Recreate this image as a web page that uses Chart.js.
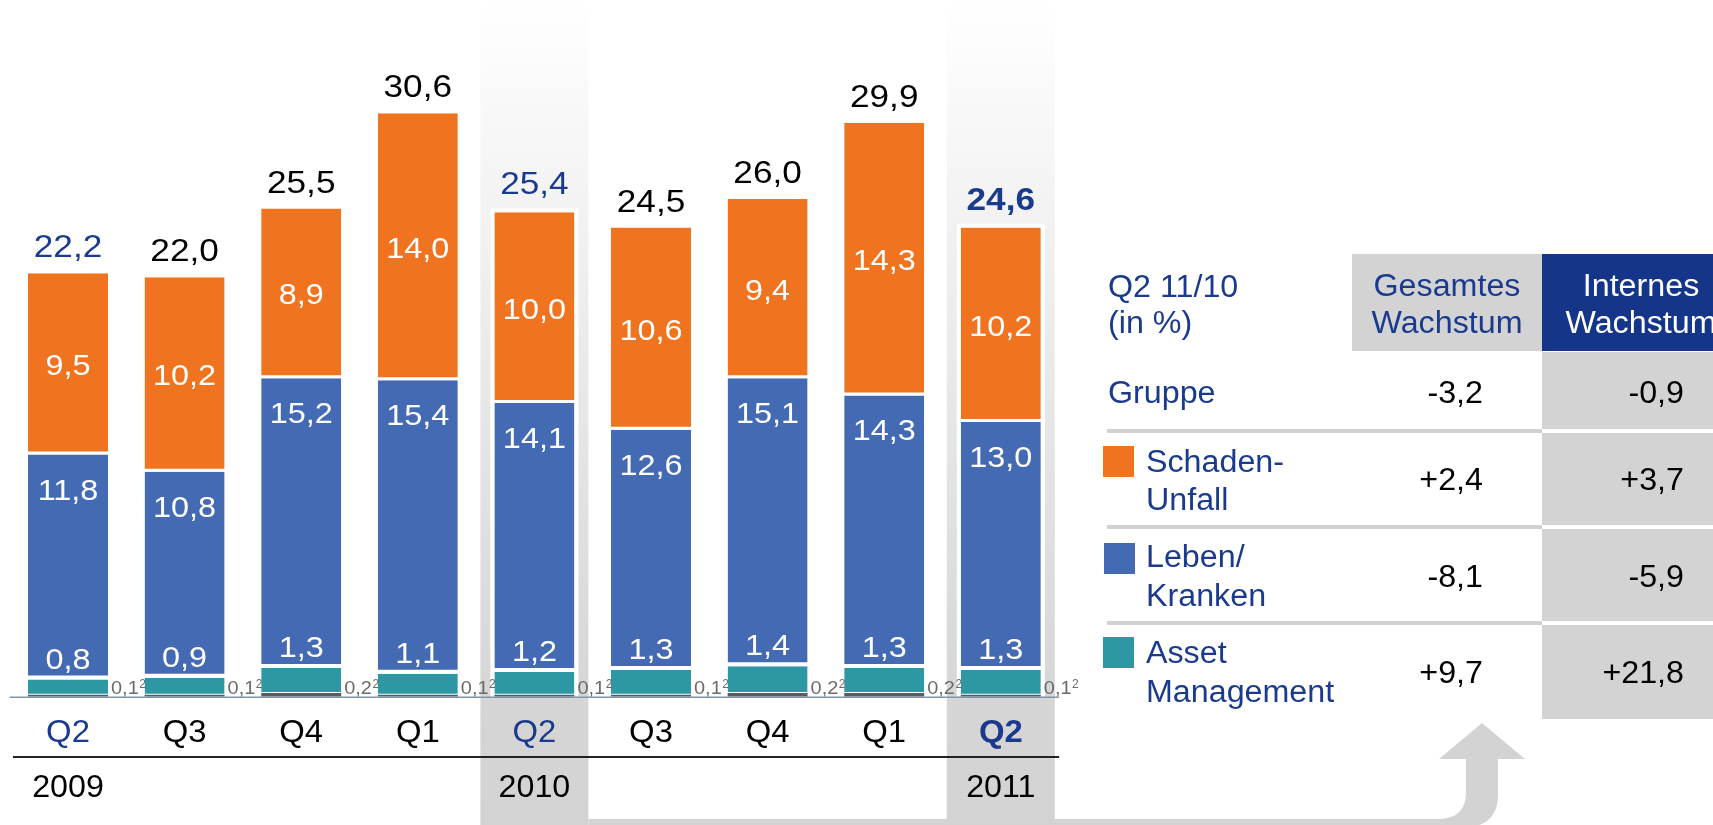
<!DOCTYPE html>
<html><head><meta charset="utf-8">
<script src="https://cdn.jsdelivr.net/npm/chart.js@4.4.1/dist/chart.umd.min.js"></script>
<style>html,body{margin:0;padding:0;background:#fff;overflow:hidden}canvas{display:block}</style>
</head><body>
<canvas id="c" width="1713" height="825"></canvas>
<script>
// ---- data ----
const quarters = ['Q2','Q3','Q4','Q1','Q2','Q3','Q4','Q1','Q2'];
const years = ['2009','','','','2010','','','','2011'];
const other = [0.1,0.1,0.2,0.1,0.1,0.1,0.2,0.2,0.1];
const assetMgmt = [0.8,0.9,1.3,1.1,1.2,1.3,1.4,1.3,1.3];
const lebenKranken = [11.8,10.8,15.2,15.4,14.1,12.6,15.1,14.3,13.0];
const schadenUnfall = [9.5,10.2,8.9,14.0,10.0,10.6,9.4,14.3,10.2];
const totals = [22.2,22.0,25.5,30.6,25.4,24.5,26.0,29.9,24.6];

const tableTitle = ['Q2 11/10','(in %)'];
const tableHeaders = [['Gesamtes','Wachstum'],['Internes','Wachstum']];
const rowLabels = [['Gruppe'],['Schaden-','Unfall'],['Leben/','Kranken'],['Asset','Management']];
const growthTotal = ['-3,2','+2,4','-8,1','+9,7'];
const growthInternal = ['-0,9','+3,7','-5,9','+21,8'];

// ---- styles ----
const FONT = '"Liberation Sans", Arial, sans-serif';
const C_ORANGE = '#F0731F', C_BLUE = '#436AB3', C_TEAL = '#2E97A4', C_OTHER = '#575B63';
const C_DARK = '#1A3A8E', C_HEAD = '#153589', C_GRAY = '#D3D3D3';
const blueIdx = [0,4,8];      // quarters labelled in dark blue
const bandIdx = [4,8];        // highlighted columns
const fmt = v => v.toFixed(1).replace('.', ',');

function txt(ctx, s, x, y, size, color, align, bold, sx) {
  sx = sx || 1;
  ctx.save();
  ctx.font = (bold ? 'bold ' : '') + size + 'px ' + FONT;
  ctx.fillStyle = color;
  ctx.textAlign = align || 'center';
  ctx.textBaseline = 'alphabetic';
  ctx.translate(x, y);
  ctx.scale(sx, 1);
  ctx.fillText(s, 0, 0);
  ctx.restore();
}

const decoPlugin = {
  id: 'deco',
  beforeDraw(chart) {
    const ctx = chart.ctx, xs = chart.scales.x;
    const H = chart.height;
    const g = ctx.createLinearGradient(0, 0, 0, H);
    g.addColorStop(0, '#ffffff');
    g.addColorStop(0.12, '#f9f9f9');
    g.addColorStop(0.86, '#d5d5d5');
    g.addColorStop(1, '#d3d3d3');
    ctx.save();
    bandIdx.forEach(i => {
      const cx = xs.getPixelForValue(i);
      ctx.fillStyle = g;
      ctx.fillRect(cx - 54, 0, 108, H);
    });
    // connector arrow from 2010 band to table
    const left = xs.getPixelForValue(4) + 54;
    ctx.fillStyle = '#D3D3D3';
    ctx.beginPath();
    ctx.moveTo(left, 819);
    ctx.lineTo(1438, 819);
    ctx.quadraticCurveTo(1466, 819, 1466, 792);
    ctx.lineTo(1466, 759);
    ctx.lineTo(1439, 759);
    ctx.lineTo(1482, 723);
    ctx.lineTo(1525, 759);
    ctx.lineTo(1498, 759);
    ctx.lineTo(1498, 795);
    ctx.quadraticCurveTo(1498, 828, 1460, 828);
    ctx.lineTo(left, 828);
    ctx.closePath();
    ctx.fill();
    ctx.restore();
  },
  beforeDatasetsDraw(chart) {
    const ctx = chart.ctx;
    const top = chart.getDatasetMeta(3), bot = chart.getDatasetMeta(0);
    ctx.save();
    ctx.fillStyle = '#ffffff';
    bandIdx.forEach(i => {
      const t = top.data[i], b = bot.data[i];
      ctx.fillRect(t.x - t.width / 2 - 4, t.y - 4, t.width + 8, b.base - t.y + 4);
    });
    ctx.restore();
  },
  afterDraw(chart) {
    const ctx = chart.ctx, xs = chart.scales.x, ys = chart.scales.y;
    const base = ys.getPixelForValue(0);
    const mO = chart.getDatasetMeta(0), mA = chart.getDatasetMeta(1),
          mL = chart.getDatasetMeta(2), mS = chart.getDatasetMeta(3);
    ctx.save();
    // axis line
    ctx.strokeStyle = '#8393AA';
    ctx.lineWidth = 1.5;
    ctx.beginPath(); ctx.moveTo(chart.chartArea.left, base + 0.5); ctx.lineTo(chart.chartArea.right, base + 0.5); ctx.stroke();
    // line under quarters
    ctx.strokeStyle = '#222';
    ctx.lineWidth = 2;
    ctx.beginPath(); ctx.moveTo(13, 757); ctx.lineTo(chart.chartArea.right, 757); ctx.stroke();
    ctx.restore();

    for (let i = 0; i < quarters.length; i++) {
      const s = mS.data[i], l = mL.data[i], a = mA.data[i], o = mO.data[i];
      const cx = s.x;
      const isBlue = blueIdx.includes(i), isBold = i === quarters.length - 1;
      // totals
      txt(ctx, fmt(totals[i]), cx, s.y - (bandIdx.includes(i) ? 18 : 16), 32, isBlue ? C_DARK : '#000', 'center', isBold, 1.1);
      // schaden label (centered)
      txt(ctx, fmt(schadenUnfall[i]), cx, (s.y + s.base) / 2 + 11, 30, '#fff', 'center', false, 1.08);
      // leben label (near top)
      txt(ctx, fmt(lebenKranken[i]), cx, l.y + 45, 30, '#fff', 'center', false, 1.08);
      // asset label (above teal segment)
      txt(ctx, fmt(assetMgmt[i]), cx, a.y - 11, 30, '#fff', 'center', false, 1.08);
      // other label with footnote
      const ox = o.x + o.width / 2 + 3, oy = base - 3;
      ctx.save();
      ctx.font = '19px ' + FONT;
      const w = ctx.measureText(fmt(other[i])).width * 1.05;
      ctx.restore();
      txt(ctx, fmt(other[i]), ox, oy, 19, '#6B6B6B', 'left', false, 1.05);
      txt(ctx, '2', ox + w + 0.5, oy - 6, 12, '#6B6B6B', 'left');
      // quarter + year labels
      txt(ctx, quarters[i], cx, 742, 31, isBlue ? C_DARK : '#000', 'center', isBold, 1.06);
      if (years[i]) txt(ctx, years[i], cx, 797, 31, '#000', 'center', false, 1.04);
    }

    // ---- growth table ----
    ctx.save();
    ctx.fillStyle = C_GRAY;
    ctx.fillRect(1352, 254, 190, 97);
    ctx.fillStyle = C_HEAD;
    ctx.fillRect(1542, 254, 171, 97);
    ctx.fillStyle = C_GRAY;
    ctx.fillRect(1542, 352, 171, 367);
    const seps = [429, 525, 621];
    seps.forEach(y => {
      ctx.fillStyle = '#D0D0D0';
      ctx.fillRect(1107, y, 435, 4);
      ctx.fillStyle = '#ffffff';
      ctx.fillRect(1542, y, 171, 4);
    });
    ctx.fillStyle = C_ORANGE; ctx.fillRect(1103, 446, 31, 31);
    ctx.fillStyle = C_BLUE;   ctx.fillRect(1104, 543, 31, 31);
    ctx.fillStyle = C_TEAL;   ctx.fillRect(1103, 637, 31, 31);
    ctx.restore();

    const TS = 1.04;
    txt(ctx, tableTitle[0], 1108, 297, 31, C_DARK, 'left', false, TS);
    txt(ctx, tableTitle[1], 1108, 333, 31, C_DARK, 'left', false, TS);
    txt(ctx, tableHeaders[0][0], 1447, 296, 31, C_DARK, 'center', false, TS);
    txt(ctx, tableHeaders[0][1], 1447, 333, 31, C_DARK, 'center', false, TS);
    txt(ctx, tableHeaders[1][0], 1641, 296, 31, '#fff', 'center', false, TS);
    txt(ctx, tableHeaders[1][1], 1641, 333, 31, '#fff', 'center', false, TS);

    const valBase = [403, 490, 587, 683];
    const lblBase = [[403], [472, 510], [567, 606], [663, 702]];
    rowLabels.forEach((lines, r) => {
      const lx = r === 0 ? 1108 : 1146;
      lines.forEach((s, k) => txt(ctx, s, lx, lblBase[r][k], 31, C_DARK, 'left', false, TS));
      txt(ctx, growthTotal[r], 1483, valBase[r], 31, '#000', 'right', false, TS);
      txt(ctx, growthInternal[r], 1684, valBase[r], 31, '#000', 'right', false, TS);
    });
  }
};

new Chart(document.getElementById('c'), {
  type: 'bar',
  data: {
    labels: quarters,
    datasets: [
      { label: 'Sonstige', data: other, backgroundColor: C_OTHER, borderWidth: 0 },
      { label: 'Asset Management', data: assetMgmt, backgroundColor: C_TEAL, borderColor: '#fff', borderSkipped: false, borderWidth: { top: 0, bottom: 1, left: 0, right: 0 } },
      { label: 'Leben/Kranken', data: lebenKranken, backgroundColor: C_BLUE, borderColor: '#fff', borderSkipped: false, borderWidth: { top: 0, bottom: 4, left: 0, right: 0 } },
      { label: 'Schaden-Unfall', data: schadenUnfall, backgroundColor: C_ORANGE, borderColor: '#fff', borderSkipped: false, borderWidth: { top: 0, bottom: 3, left: 0, right: 0 } }
    ]
  },
  options: {
    responsive: false,
    animation: false,
    events: [],
    layout: { padding: { left: 9.7, right: 653.9, top: 10.2, bottom: 128.3 } },
    datasets: { bar: { barPercentage: 0.686, categoryPercentage: 1 } },
    scales: {
      x: { stacked: true, display: false },
      y: { stacked: true, display: false, min: 0, max: 36 }
    },
    plugins: { legend: { display: false }, tooltip: { enabled: false } }
  },
  plugins: [decoPlugin]
});
</script>
</body></html>
